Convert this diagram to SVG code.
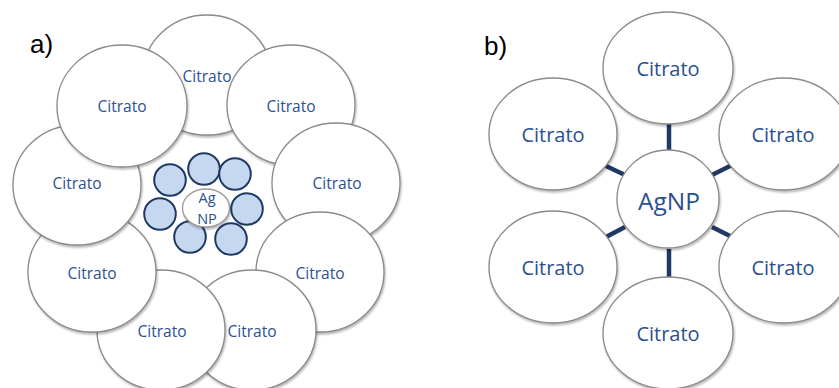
<svg xmlns="http://www.w3.org/2000/svg" width="839" height="388" viewBox="0 0 839 388">
<defs>
  <filter id="sh" x="-20%" y="-20%" width="140%" height="140%" color-interpolation-filters="sRGB">
    <feGaussianBlur in="SourceAlpha" stdDeviation="1.3"/>
    <feOffset dx="1" dy="1.5" result="b"/>
    <feComponentTransfer in="b" result="s"><feFuncA type="linear" slope="0.28"/></feComponentTransfer>
    <feMerge><feMergeNode in="s"/><feMergeNode in="SourceGraphic"/></feMerge>
  </filter>
  <style>
    .c { fill: #ffffff; stroke: #8a8a8a; stroke-width: 1.3; filter: url(#sh); }
    .s { fill: #c6d8ef; stroke: #1f3864; stroke-width: 2; }
    .t { font-family: "Open Sans", "Noto Sans", sans-serif; fill: #2b5090; text-anchor: middle; dominant-baseline: central; }
    .ta { font-size: 15.5px; }
    .tb { font-size: 20px; }
    .lbl { font-family: "Liberation Sans", Arial, sans-serif; font-size: 26px; fill: #000; }
    .k { stroke: #1f3864; stroke-width: 4.5; }
  </style>
</defs>
<rect width="839" height="388" fill="#ffffff"/>
<text class="lbl" x="30" y="53">a)</text>
<text class="lbl" x="484" y="55">b)</text>

<!-- Panel a -->
<g id="a-top"><ellipse class="c" cx="207" cy="75" rx="64" ry="60"/></g>
<g id="a-upper-right"><ellipse class="c" cx="291" cy="105" rx="64" ry="60"/></g>
<g id="a-right"><ellipse class="c" cx="336" cy="183" rx="64" ry="60"/></g>
<g id="a-lower-right"><ellipse class="c" cx="320" cy="272" rx="64" ry="60"/></g>
<g id="a-bottom-right"><ellipse class="c" cx="252" cy="330" rx="64" ry="60"/></g>
<g id="a-bottom-left"><ellipse class="c" cx="161" cy="330" rx="64" ry="60"/></g>
<g id="a-lower-left"><ellipse class="c" cx="92" cy="272" rx="64" ry="60"/></g>
<g id="a-left"><ellipse class="c" cx="77" cy="185" rx="64" ry="60"/></g>
<g id="a-upper-left"><ellipse class="c" cx="122" cy="106" rx="65" ry="61"/></g>

<g id="a-citrate-labels" class="t ta">
  <text x="207" y="76">Citrato</text>
  <text x="291" y="106">Citrato</text>
  <text x="337" y="183">Citrato</text>
  <text x="320" y="273">Citrato</text>
  <text x="252" y="331">Citrato</text>
  <text x="162" y="331">Citrato</text>
  <text x="92" y="273">Citrato</text>
  <text x="77" y="183">Citrato</text>
  <text x="122" y="106">Citrato</text>
</g>

<g id="a-ions">
  <circle class="s" cx="170" cy="180" r="15.8"/>
  <circle class="s" cx="204" cy="169" r="15.8"/>
  <circle class="s" cx="235" cy="174" r="15.8"/>
  <circle class="s" cx="160" cy="214" r="15.8"/>
  <circle class="s" cx="247" cy="209" r="15.8"/>
  <circle class="s" cx="190" cy="237" r="15.8"/>
  <circle class="s" cx="231" cy="239" r="15.8"/>
</g>
<g id="a-agnp">
  <ellipse cx="206" cy="208" rx="23.5" ry="19" fill="#ffffff" stroke="#9a9a9a" stroke-width="1.3" filter="url(#sh)"/>
  <text class="t" x="207" y="197" font-size="14.5px">Ag</text>
  <text class="t" x="207" y="218" font-size="14.5px">NP</text>
</g>

<!-- Panel b -->
<g id="b-connectors" class="k">
  <line x1="669" y1="122" x2="669" y2="151"/>
  <line x1="669" y1="249" x2="669" y2="278"/>
  <line x1="606" y1="166" x2="625" y2="175"/>
  <line x1="712" y1="175" x2="732" y2="165"/>
  <line x1="606" y1="237" x2="625" y2="227"/>
  <line x1="712" y1="227" x2="732" y2="237"/>
</g>
<g id="b-top"><ellipse class="c" cx="668" cy="68" rx="65" ry="56"/><text class="t tb" x="668" y="68">Citrato</text></g>
<g id="b-upper-left"><ellipse class="c" cx="553" cy="134" rx="64" ry="56"/><text class="t tb" x="553" y="134">Citrato</text></g>
<g id="b-upper-right"><ellipse class="c" cx="784" cy="134" rx="65" ry="56"/><text class="t tb" x="783" y="134">Citrato</text></g>
<g id="b-lower-left"><ellipse class="c" cx="553" cy="267" rx="64" ry="56"/><text class="t tb" x="553" y="267">Citrato</text></g>
<g id="b-lower-right"><ellipse class="c" cx="784" cy="267" rx="65" ry="56"/><text class="t tb" x="783" y="267">Citrato</text></g>
<g id="b-bottom"><ellipse class="c" cx="668" cy="333" rx="65" ry="56"/><text class="t tb" x="668" y="333">Citrato</text></g>
<g id="b-agnp"><ellipse class="c" cx="668" cy="199" rx="51" ry="49"/><text class="t" x="669" y="200" font-size="24.5px">AgNP</text></g>
</svg>
